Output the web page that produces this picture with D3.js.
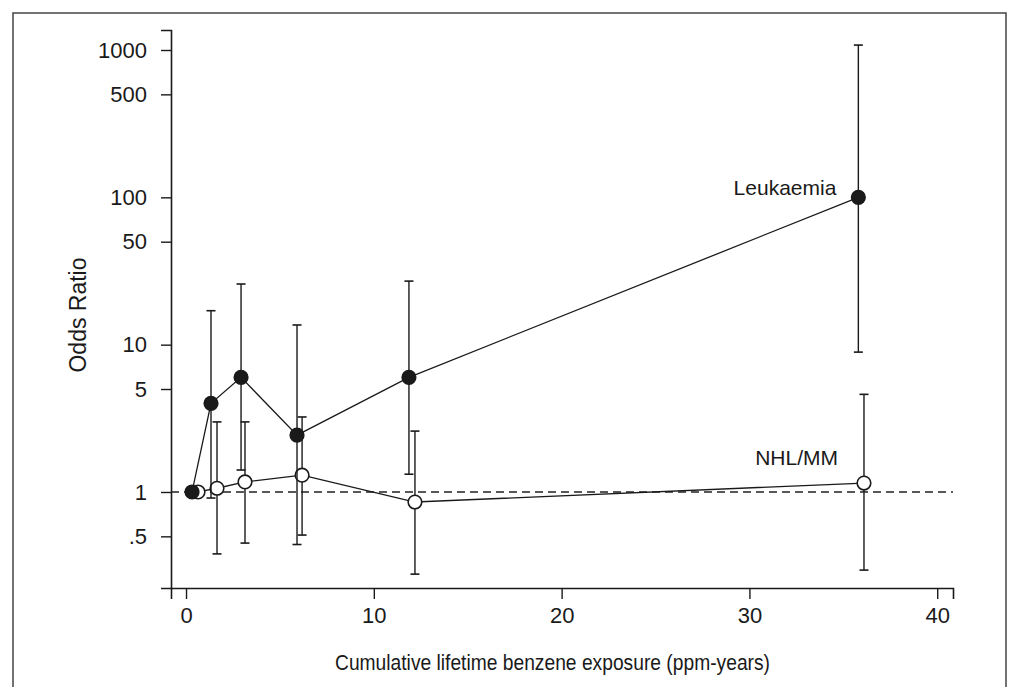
<!DOCTYPE html>
<html>
<head>
<meta charset="utf-8">
<script src="https://cdn.jsdelivr.net/npm/d3@7"></script>
<style>
  html, body { margin: 0; padding: 0; background: #fff; }
  svg { display: block; }
  text { font-family: "Liberation Sans", Arial, Helvetica, sans-serif; fill: #1a1a1a; }
</style>
</head>
<body>
<svg id="chart" width="1019" height="687"></svg>
<script>
// Odds ratios (with 95% CI) by cumulative lifetime benzene exposure
const leukX     = [0.32, 1.33, 2.93, 5.91, 11.87, 35.8];
const leukOR    = [1.0, 4.0, 6.0, 2.43, 6.0, 100];
const leukLow   = [null, 0.91, 1.41, 0.44, 1.32, 8.9];
const leukHigh  = [null, 17, 25.8, 13.6, 27, 1080];

const nhlX      = [0.64, 1.65, 3.14, 6.18, 12.19, 36.1];
const nhlOR     = [1.0, 1.06, 1.17, 1.30, 0.855, 1.15];
const nhlLow    = [null, 0.38, 0.45, 0.51, 0.277, 0.295];
const nhlHigh   = [null, 2.99, 2.99, 3.23, 2.59, 4.6];

const xTicks = [0, 10, 20, 30, 40];
const yTicks = [0.5, 1, 5, 10, 50, 100, 500, 1000];
const yTickLabels = [".5", "1", "5", "10", "50", "100", "500", "1000"];

const svg = d3.select("#chart");
const ink = "#1a1a1a";

// outer frame
svg.append("path")
  .attr("d", "M13,700 L13,13 L1006,13 L1006,700")
  .attr("fill", "none").attr("stroke", "#444").attr("stroke-width", 1.5);

const x = d3.scaleLinear().domain([-0.8, 40.84]).range([171, 953]);
const y = d3.scaleLog().domain([0.223, 1367]).range([588, 30]);

// axes
const xAxis = svg.append("g").attr("transform", "translate(0,588)")
  .call(d3.axisBottom(x).tickValues(xTicks).tickSizeOuter(0).tickSize(11).tickPadding(8));
const yAxis = svg.append("g").attr("transform", "translate(171,0)")
  .call(d3.axisLeft(y).tickValues(yTicks).tickFormat((d, i) => yTickLabels[i])
    .tickSizeOuter(0).tickSize(10).tickPadding(14));

[xAxis, yAxis].forEach(g => {
  g.select(".domain").attr("stroke", ink).attr("stroke-width", 1.6);
  g.selectAll(".tick line").attr("stroke", ink).attr("stroke-width", 1.4);
  g.selectAll(".tick text").style("font-size", "22px").attr("fill", ink)
    .style("font-family", '"Liberation Sans", Arial, sans-serif');
});

// reference line at OR = 1
svg.append("line")
  .attr("x1", 171).attr("x2", 953).attr("y1", y(1)).attr("y2", y(1))
  .attr("stroke", "#222").attr("stroke-width", 1.3).attr("stroke-dasharray", "8,5");

function drawSeries(xs, or, lo, hi, filled) {
  const g = svg.append("g");
  const capW = 4.5;
  xs.forEach((d, i) => {
    if (lo[i] == null) return;
    const cx = x(d);
    g.append("line").attr("x1", cx).attr("x2", cx).attr("y1", y(lo[i])).attr("y2", y(hi[i]))
      .attr("stroke", ink).attr("stroke-width", 1.4);
    [lo[i], hi[i]].forEach(v => {
      g.append("line").attr("x1", cx - capW).attr("x2", cx + capW).attr("y1", y(v)).attr("y2", y(v))
        .attr("stroke", ink).attr("stroke-width", 1.6);
    });
  });
  const pts = xs.map((d, i) => [x(d), y(or[i])]);
  g.append("path").attr("d", d3.line()(pts))
    .attr("fill", "none").attr("stroke", ink).attr("stroke-width", 1.3);
  g.selectAll("circle").data(pts).join("circle")
    .attr("cx", d => d[0]).attr("cy", d => d[1]).attr("r", 6.8)
    .attr("fill", filled ? ink : "#fff").attr("stroke", ink).attr("stroke-width", 1.6);
  return g;
}

drawSeries(nhlX, nhlOR, nhlLow, nhlHigh, false);
drawSeries(leukX, leukOR, leukLow, leukHigh, true);

// series labels
svg.append("text")
  .attr("x", x(leukX[5]) - 22).attr("y", y(leukOR[5]) - 2)
  .attr("text-anchor", "end").style("font-size", "21px").text("Leukaemia");
svg.append("text")
  .attr("x", x(nhlX[5]) - 26).attr("y", y(nhlOR[5]) - 18)
  .attr("text-anchor", "end").style("font-size", "21px").text("NHL/MM");

// axis titles
svg.append("text")
  .attr("transform", "translate(86,315) rotate(-90)")
  .attr("text-anchor", "middle").style("font-size", "23px").text("Odds Ratio");
svg.append("text")
  .attr("x", 335).attr("y", 670)
  .attr("textLength", 435).attr("lengthAdjust", "spacingAndGlyphs")
  .style("font-size", "22px").text("Cumulative lifetime benzene exposure (ppm-years)");
</script>
</body>
</html>
